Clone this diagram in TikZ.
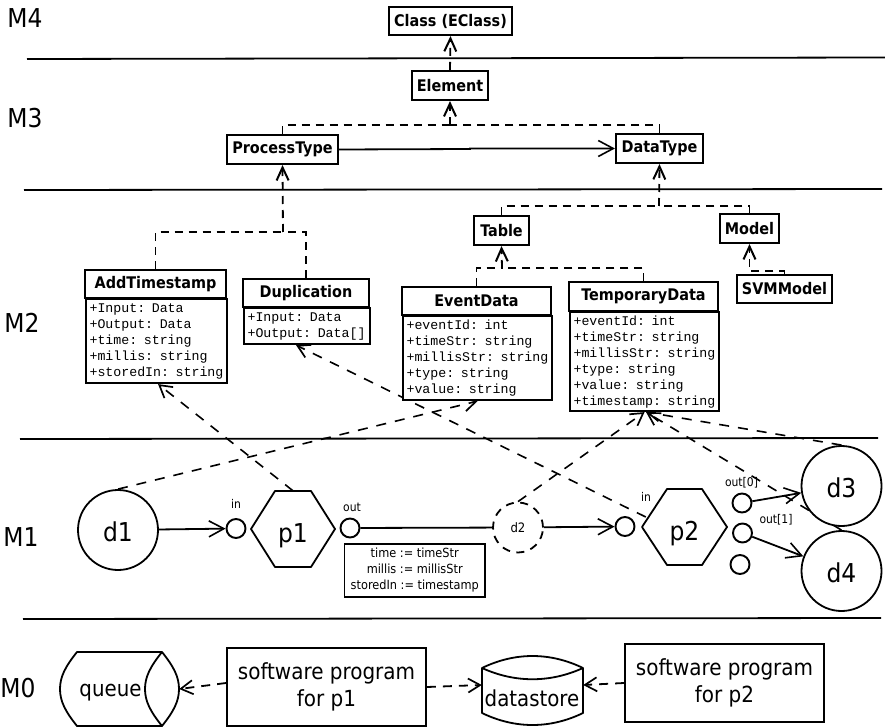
\documentclass[tikz,border=0pt]{standalone}
\usepackage{fontspec}
\setmainfont{DejaVu Sans Condensed}
\newfontfamily\attrfont{Liberation Mono}
\usetikzlibrary{arrows.meta,backgrounds,calc}
\newcommand{\fsz}[2]{\fontsize{#1}{#2}\selectfont}
\tikzset{
  x=1pt,y=-1pt,
  levelline/.style={line width=1.8pt},
  lvl/.style={font=\fsz{26}{30},inner sep=0pt},
  cls/.style={draw,line width=2.1pt,fill=white,inner sep=0pt,font=\bfseries\fsz{16}{19}},
  attrs/.style={draw,line width=2.1pt,fill=white,inner xsep=3.5pt,inner ysep=0pt,anchor=north west,align=left,font=\attrfont\fsz{13.25}{16},execute at begin node={\rule{0pt}{10.5pt}}},
  gen/.style={line width=1.8pt,dash pattern=on 8pt off 6pt},
  gentip/.style={gen,-{Straight Barb[length=13pt,width=12pt,line width=2pt]}},
  inst/.style={line width=1.6pt,dash pattern=on 10pt off 9pt,-{Straight Barb[length=12pt,width=14pt,line width=1.7pt]}},
  flow/.style={line width=1.8pt,-{Straight Barb[length=15pt,width=16pt,line width=1.6pt]}},
  dat/.style={circle,draw,line width=1.8pt,fill=white,inner sep=0pt,minimum size=80pt,font=\fsz{26}{30},text height=22pt,text depth=0pt},
  port/.style={circle,draw,line width=1.9pt,fill=white,inner sep=0pt,minimum size=19pt},
  small/.style={inner sep=0pt,font=\fsz{12}{14}},
  hexlab/.style={inner sep=0pt,minimum width=85pt,minimum height=76pt,font=\fsz{26}{30},text height=27pt,text depth=0pt},
  hexshape/.style={draw,line width=1.8pt,fill=white,line join=round},
  prog/.style={draw,line width=1.9pt,fill=white,inner sep=0pt,align=center,font=\fsz{22.2}{27.5},execute at begin node={\rule{0pt}{23pt}}},
  store/.style={draw,line width=1.8pt,fill=white,line join=round},
  hold/.style={inner sep=0pt},
  storetext/.style={inner sep=0pt,font=\fsz{22}{25}},
  depend/.style={line width=1.8pt,dash pattern=on 9pt off 7pt,-{Straight Barb[length=12pt,width=14pt,line width=1.7pt]}},
}
\begin{document}
\begin{tikzpicture}
\useasboundingbox (0,0) rectangle (885,727);

% level labels
\node[lvl] (m4) at (25,18) {M4};
\node[lvl] (m3) at (25,118) {M3};
\node[lvl] (m2) at (22,323) {M2};
\node[lvl] (m1) at (21,537) {M1};
\node[lvl] (m0) at (18,688) {M0};

% M4 / M3 classes
\node[cls,minimum width=123pt,minimum height=28pt] (class) at (450.5,21) {Class (EClass)};
\node[cls,minimum width=76pt,minimum height=29pt] (element) at (450,85.5) {Element};
\node[cls,minimum width=111pt,minimum height=29pt] (process) at (282.5,149.5) {ProcessType};
\node[cls,minimum width=87pt,minimum height=29pt] (datatype) at (659.5,148.5) {DataType};
\node[cls,minimum width=55pt,minimum height=29pt] (table) at (501.5,230.5) {Table};
\node[cls,minimum width=59pt,minimum height=29pt] (model) at (749.5,228.5) {Model};
\node[cls,minimum width=95pt,minimum height=28pt] (svm) at (784.5,289) {SVMModel};

% M2 classes
\node[cls,minimum width=141pt,minimum height=28pt] (add) at (155.5,284) {AddTimestamp};
\node[attrs,minimum width=141pt,minimum height=84pt,text width=134pt] (addb) at (85,298) {+Input: Data\\+Output: Data\\+time: string\\+millis: string\\+storedIn: string};
\node[cls,minimum width=126pt,minimum height=28pt] (dup) at (306,293) {Duplication};
\node[attrs,minimum width=126pt,minimum height=36pt,text width=119pt] (dupb) at (243,307) {+Input: Data\\+Output: Data[]};
\node[cls,minimum width=149pt,minimum height=28pt] (event) at (476.5,301) {EventData};
\node[attrs,minimum width=149pt,minimum height=84pt,text width=142pt] (eventb) at (402,315) {+eventId: int\\+timeStr: string\\+millisStr: string\\+type: string\\+value: string};
\node[cls,minimum width=149pt,minimum height=29pt] (temp) at (643.5,296.5) {TemporaryData};
\node[attrs,minimum width=149pt,minimum height=99pt,text width=142pt] (tempb) at (569,311) {+eventId: int\\+timeStr: string\\+millisStr: string\\+type: string\\+value: string\\+timestamp: string};

% M1 instances
\node[dat] (d1) at (118,530) {d1};
\node[port] (in1) at (236,528.5) {};
\node[small] (in1l) at (236,504) {in};
\draw[hexshape] (251,529) -- (275,491) -- (311,491) -- (335,529) -- (311,567) -- (275,567) -- cycle;
\node[hexlab] (p1) at (293,529) {p1};
\node[port] (out1) at (350,528) {};
\node[small] (out1l) at (352,507) {out};
\node[draw,line width=1.9pt,fill=white,inner sep=0pt,minimum width=140.5pt,minimum height=53pt,align=center,font=\fsz{12.6}{16},execute at begin node={\rule{0pt}{13pt}}] (map) at (414.75,570.5) {time := timeStr\\millis := millisStr\\storedIn := timestamp};
\node[circle,draw,line width=1.8pt,fill=white,inner sep=0pt,minimum size=50pt,dash pattern=on 8pt off 6.5pt,font=\fsz{13}{16}] (d2) at (518,527.5) {d2};
\node[port] (in2) at (625,526.5) {};
\node[small] (in2l) at (646,497) {in};
\draw[hexshape] (642,527) -- (667,489) -- (702,489) -- (727,527) -- (702,565) -- (667,565) -- cycle;
\node[hexlab] (p2) at (684.5,527) {p2};
\node[port] (o0) at (742,503) {};
\node[port] (o1) at (742.5,533) {};
\node[port] (o2) at (740,564.5) {};
\node[small] (o0l) at (741.5,483) {out[0]};
\node[small] (o1l) at (776,520) {out[1]};
\node[dat] (d3) at (841.5,486) {d3};
\node[dat] (d4) at (841.5,571) {d4};

% M0
\draw[store] (77,652) -- (162,652) .. controls (174,667) and (179,677) .. (179,689) .. controls (179,701) and (174,711) .. (162,726) -- (77,726) .. controls (65,711) and (60,701) .. (60,689) .. controls (60,677) and (65,667) .. (77,652) -- cycle;
\draw[line width=1.8pt] (162,652) .. controls (150,667) and (145,677) .. (145,689) .. controls (145,701) and (150,711) .. (162,726);
\node[hold,minimum width=119pt,minimum height=74pt] (queue) at (119.5,689) {};
\node[storetext] (queuet) at (110.5,693) {queue};
\node[prog,minimum width=199pt,minimum height=78pt] (sw1) at (326.5,687) {software program\\for p1};
\draw[store] (482,668) .. controls (515,652) and (550,652) .. (583,668) -- (583,713) .. controls (550,729) and (515,729) .. (482,713) -- cycle;
\draw[line width=1.8pt] (482,668) .. controls (515,683) and (550,683) .. (583,668);
\node[hold,minimum width=101pt,minimum height=69pt] (ds) at (532.5,690.5) {};
\node[storetext] (dst) at (532,698) {datastore};
\node[prog,minimum width=199pt,minimum height=78pt] (sw2) at (724.5,683) {software program\\for p2};

\begin{scope}[on background layer]
  % level separators
  \coordinate (l4a) at (27,59);  \coordinate (l4b) at (885,57.5);
  \coordinate (l3a) at (24,190); \coordinate (l3b) at (882,189);
  \coordinate (l2a) at (20,439); \coordinate (l2b) at (878,438);
  \coordinate (l1a) at (23,619); \coordinate (l1b) at (881,618);
  \draw[levelline] (l4a) -- (l4b);
  \draw[levelline] (l3a) -- (l3b);
  \draw[levelline] (l2a) -- (l2b);
  \draw[levelline] (l1a) -- (l1b);

  % generalisations
  \coordinate (j1) at (450,125);
  \coordinate (j2) at (283,232);
  \coordinate (j3) at (659,206);
  \coordinate (j4) at (502,268);
  \draw[gentip] (element.north) -- (class.south);
  \draw[gen] (process.north) |- (j1);
  \draw[gen] (datatype.north) |- (j1);
  \draw[gentip] (j1) -- (element.south);
  \draw[flow] (process.east) -- (470,149) -- (470,148.5) -- (datatype.west);
  \draw[gen] (add.north) |- (j2);
  \draw[gen] (dup.north) |- (j2);
  \draw[gentip] (j2) -- (process.south);
  \draw[gen] (table.north) |- (j3);
  \draw[gen] (model.north) |- (j3);
  \draw[gentip] (j3) -- (datatype.south);
  \draw[gen] (event.north) |- (j4);
  \draw[gen] (temp.north) |- (j4);
  \draw[gentip] (j4) -- (table.south);
  \draw[gentip] (svm.north) |- (749.5,271) -- (model.south);

  % instance-of
  \draw[inst] (d1.north) -- (eventb.south);
  \draw[inst] (p1.north) -- ([xshift=1.5pt]addb.south);
  \draw[inst] ($(p2.west)+(4pt,10pt)$) -- ([xshift=-11pt]dupb.south);
  \draw[inst] (d2.north) -- (tempb.south);
  \draw[inst] (d3.north) -- ([xshift=1.5pt]tempb.south);
  \draw[inst] (d4.north) -- ([xshift=1.5pt]tempb.south);

  % data flow
  \draw[flow] (d1) -- (in1);
  \draw[line width=1.8pt] (out1) -- (d2);
  \draw[flow] (d2) -- (in2);
  \draw[flow] (o0) -- (d3);
  \draw[flow] (o1) -- (d4);

  % realisation
  \draw[depend] ([yshift=4pt]sw1.west) -- (queue.east);
  \draw[depend] (sw1.east) -- ([yshift=5.5pt]ds.west);
  \draw[depend] (sw2.west) -- ([yshift=5.5pt]ds.east);
\end{scope}
\end{tikzpicture}
\end{document}
